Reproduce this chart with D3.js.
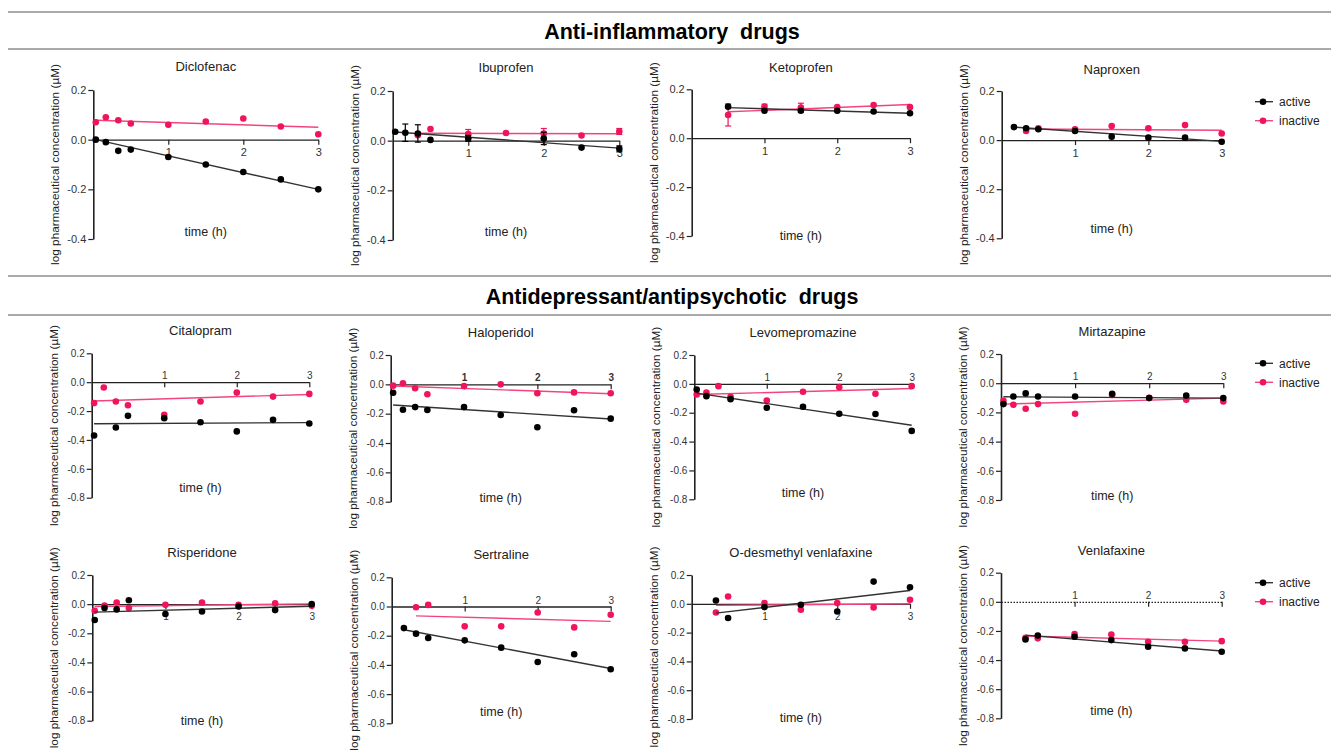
<!DOCTYPE html>
<html>
<head>
<meta charset="utf-8">
<script src="https://cdn.jsdelivr.net/npm/d3@7"></script>
<style>
  body { margin: 0; background: #fff; }
  svg { display: block; font-family: Arial, "Liberation Sans", sans-serif; }
</style>
</head>
<body>
<div id="chart"></div>
<script>
//Colores
const COLOR_ACTIVE = '#000000',
    COLOR_INACTIVE = '#f0145a',
    COLOR_FIT_ACTIVE = '#333333',
    COLOR_FIT_INACTIVE = '#f2457d',
    COLOR_AXIS = '#222222';

//Tiempos (h)
const tFull = [0.033, 0.167, 0.333, 0.5, 1, 1.5, 2, 2.5, 3];
const tFrom10 = [0.167, 0.333, 0.5, 1, 1.5, 2, 2.5, 3];
const tFrom20 = [0.333, 0.5, 1, 1.5, 2, 2.5, 3];
const tFrom30 = [0.5, 1, 1.5, 2, 2.5, 3];

const xTicks = [1, 2, 3];
const yTicksTop = [0.2, 0.0, -0.2, -0.4];
const yTicksBottom = [0.2, 0.0, -0.2, -0.4, -0.6, -0.8];

const seriesNames = ['active', 'inactive'];

//Datos (log concentración) + recta ajustada [inicio, fin]
const diclofenacActive = [0.0, -0.01, -0.045, -0.04, -0.07, -0.1, -0.13, -0.16, -0.2];
const diclofenacInactive = [0.07, 0.09, 0.078, 0.065, 0.06, 0.073, 0.085, 0.053, 0.022];
const diclofenacFit = [[0.0, -0.2], [0.078, 0.05]];

const ibuprofenActiveT = [0.033, 0.167, 0.333, 0.5, 1, 2, 2.5, 3];
const ibuprofenActive = [0.036, 0.032, 0.029, 0.003, 0.009, 0.009, -0.028, -0.033];
const ibuprofenActiveErr = [0, 0.035, 0.035, 0, 0.012, 0.025, 0, 0.012];
const ibuprofenInactive = [0.022, 0.047, 0.027, 0.031, 0.029, 0.021, 0.037];
const ibuprofenInactiveErr = [0, 0, 0.018, 0, 0.02, 0, 0.012];
const ibuprofenFit = [[0.035, -0.03], [0.03, 0.028]];

const ketoprofenActive = [0.129, 0.112, 0.112, 0.112, 0.109, 0.102];
const ketoprofenInactive = [0.095, 0.129, 0.125, 0.127, 0.136, 0.127];
const ketoprofenInactiveErr = [0.045, 0.01, 0.018, 0, 0, 0];
const ketoprofenFit = [[0.125, 0.102], [0.108, 0.138]];

const naproxenActive = [0.053, 0.048, 0.044, 0.037, 0.014, 0.01, 0.01, -0.007];
const naproxenInactive = [0.037, 0.048, 0.044, 0.057, 0.048, 0.061, 0.027];
const naproxenFit = [[0.053, -0.005], [0.045, 0.04]];

const citalopramActiveT = [0.033, 0.333, 0.5, 1, 1.5, 2, 2.5, 3];
const citalopramActive = [-0.369, -0.314, -0.233, -0.249, -0.277, -0.341, -0.261, -0.286];
const citalopramInactive = [-0.145, -0.037, -0.134, -0.16, -0.226, -0.134, -0.072, -0.1, -0.081];
const citalopramFit = [[-0.288, -0.28], [-0.13, -0.085]];

const haloperidolActive = [-0.057, -0.173, -0.155, -0.175, -0.155, -0.209, -0.293, -0.177, -0.234];
const haloperidolInactive = [-0.009, 0.007, -0.027, -0.068, -0.011, 0.0, -0.061, -0.055, -0.061];
const haloperidolFit = [[-0.141, -0.236], [-0.011, -0.064]];

const levomepromazineActiveT = [0.033, 0.167, 0.5, 1, 1.5, 2, 2.5, 3];
const levomepromazineActive = [-0.039, -0.085, -0.106, -0.166, -0.159, -0.207, -0.209, -0.326];
const levomepromazineInactive = [-0.074, -0.06, -0.016, -0.09, -0.115, -0.055, -0.023, -0.069, -0.016];
const levomepromazineFit = [[-0.064, -0.287], [-0.074, -0.032]];

const mirtazapineActive = [-0.143, -0.091, -0.07, -0.091, -0.091, -0.073, -0.102, -0.084, -0.102];
const mirtazapineInactive = [-0.12, -0.148, -0.175, -0.143, -0.209, -0.08, -0.1, -0.114, -0.125];
const mirtazapineFit = [[-0.093, -0.102], [-0.143, -0.102]];

const risperidoneActive = [-0.109, -0.027, -0.036, 0.027, -0.068, -0.05, -0.016, -0.041, 0.0];
const risperidoneInactive = [-0.045, -0.009, 0.011, -0.027, -0.005, 0.011, -0.005, 0.005, -0.011];
const risperidoneFit = [[-0.055, -0.014], [-0.016, 0.002]];

const sertralineActive = [-0.148, -0.186, -0.216, -0.232, -0.282, -0.38, -0.327, -0.43];
const sertralineInactive = [-0.005, 0.011, -0.136, -0.136, -0.041, -0.143, -0.057];
const sertralineFit = [[-0.159, -0.425], [-0.064, -0.102]];

const odvActive = [0.023, -0.099, -0.023, -0.007, -0.053, 0.154, 0.115];
const odvInactive = [-0.06, 0.051, 0.005, -0.041, 0.005, -0.025, 0.028];
const odvFit = [[-0.065, 0.092], [-0.011, 0.0]];

const venlafaxineActive = [-0.258, -0.231, -0.24, -0.263, -0.309, -0.32, -0.343];
const venlafaxineInactive = [-0.247, -0.251, -0.222, -0.224, -0.274, -0.274, -0.27];
const venlafaxineFit = [[-0.229, -0.338], [-0.235, -0.27]];

const drugs = [
    { name: 'Diclofenac', a: [tFull, diclofenacActive], i: [tFull, diclofenacInactive], fit: diclofenacFit },
    { name: 'Ibuprofen', a: [ibuprofenActiveT, ibuprofenActive, ibuprofenActiveErr], i: [tFrom20, ibuprofenInactive, ibuprofenInactiveErr], fit: ibuprofenFit },
    { name: 'Ketoprofen', a: [tFrom30, ketoprofenActive], i: [tFrom30, ketoprofenInactive, ketoprofenInactiveErr], fit: ketoprofenFit },
    { name: 'Naproxen', a: [tFrom10, naproxenActive], i: [tFrom20, naproxenInactive], fit: naproxenFit },
    { name: 'Citalopram', a: [citalopramActiveT, citalopramActive], i: [tFull, citalopramInactive], fit: citalopramFit },
    { name: 'Haloperidol', a: [tFull, haloperidolActive], i: [tFull, haloperidolInactive], fit: haloperidolFit },
    { name: 'Levomepromazine', a: [levomepromazineActiveT, levomepromazineActive], i: [tFull, levomepromazineInactive], fit: levomepromazineFit },
    { name: 'Mirtazapine', a: [tFull, mirtazapineActive], i: [tFull, mirtazapineInactive], fit: mirtazapineFit },
    { name: 'Risperidone', a: [tFull, risperidoneActive], i: [tFull, risperidoneInactive], fit: risperidoneFit },
    { name: 'Sertraline', a: [tFrom10, sertralineActive], i: [tFrom20, sertralineInactive], fit: sertralineFit },
    { name: 'O-desmethyl venlafaxine', a: [tFrom20, odvActive], i: [tFrom20, odvInactive], fit: odvFit },
    { name: 'Venlafaxine', a: [tFrom20, venlafaxineActive], i: [tFrom20, venlafaxineInactive], fit: venlafaxineFit }
];

//Posición de cada panel: eje y (t=0), t=3, y superior / inferior, etiquetas del eje x
const layout = [
    { ax: 93.3, x3: 318.3, yTop: 90, yBot: 239, lab: 'below', tY: 66, hY: 232 },
    { ax: 392.7, x3: 619.3, yTop: 91, yBot: 240, lab: 'below', tY: 67, hY: 232 },
    { ax: 691.7, x3: 910, yTop: 89.3, yBot: 236, lab: 'below', tY: 67, hY: 236 },
    { ax: 1001.7, x3: 1221.7, yTop: 91, yBot: 238.3, lab: 'below', tY: 69, hY: 229, legend: 101.7 },
    { ax: 91.7, x3: 309.3, yTop: 353.3, yBot: 497.7, lab: 'above', tY: 330, hY: 488 },
    { ax: 390.7, x3: 610.7, yTop: 355, yBot: 501.7, lab: 'above', tY: 332, hY: 498, bold: true },
    { ax: 694.3, x3: 911.7, yTop: 355, yBot: 499.3, lab: 'above', tY: 332, hY: 493 },
    { ax: 1001, x3: 1223.3, yTop: 354, yBot: 500, lab: 'above', tY: 331, hY: 496, legend: 363.3 },
    { ax: 92.3, x3: 311.7, yTop: 575, yBot: 720.7, lab: 'below', tY: 552, hY: 721 },
    { ax: 391.7, x3: 610.7, yTop: 577.3, yBot: 723.3, lab: 'above', tY: 554, hY: 712 },
    { ax: 691.7, x3: 910, yTop: 575, yBot: 719, lab: 'below', tY: 552, hY: 718 },
    { ax: 1001, x3: 1221.7, yTop: 572.7, yBot: 718.3, lab: 'above', tY: 550, hY: 711, legend: 582.7, dotted: true }
];

const W = 1331, H = 752;
const svg = d3.select('#chart').append('svg').attr('width', W).attr('height', H);

//Cabeceras de sección
[12, 49, 276, 315].forEach(function(yy) {
    svg.append('line').attr('x1', 8).attr('x2', W).attr('y1', yy).attr('y2', yy)
        .attr('stroke', '#555').attr('stroke-width', 1);
});
svg.append('text').attr('x', 672).attr('y', 38.5).attr('text-anchor', 'middle')
    .style('font-size', '21.5px').style('font-weight', 'bold').style('white-space', 'pre')
    .text('Anti-inflammatory  drugs');
svg.append('text').attr('x', 672).attr('y', 303.5).attr('text-anchor', 'middle')
    .style('font-size', '21.5px').style('font-weight', 'bold').style('white-space', 'pre')
    .text('Antidepressant/antipsychotic  drugs');

drugs.forEach(function(d, k) {
    const L = layout[k];
    const top = k < 4;
    const yTicks = top ? yTicksTop : yTicksBottom;
    const g = svg.append('g');

    let x = d3.scaleLinear().domain([0, 3]).range([L.ax, L.x3]);
    let y = d3.scaleLinear().domain([0.2, yTicks[yTicks.length - 1]]).range([L.yTop, L.yBot]);

    //Eje Y
    const gy = g.append('g').attr('transform', 'translate(' + L.ax + ',0)')
        .call(d3.axisLeft(y).tickValues(yTicks).tickSize(5).tickSizeOuter(0)
            .tickFormat(function(v) { return v.toFixed(1); }));
    gy.select('.domain').attr('stroke', COLOR_AXIS).attr('stroke-width', 1.6);
    gy.selectAll('.tick line').attr('stroke', COLOR_AXIS).attr('stroke-width', 1.2);
    gy.selectAll('.tick text').attr('fill', '#333').attr('x', -7)
        .style('font-size', top ? '11px' : '10px').style('font-family', 'Arial, "Liberation Sans", sans-serif');

    //Eje X en y = 0
    const gx = g.append('g').attr('transform', 'translate(0,' + y(0) + ')')
        .call(d3.axisBottom(x).tickValues(xTicks).tickSize(5).tickSizeOuter(0).tickFormat(d3.format('d')));
    gx.select('.domain').attr('stroke', COLOR_AXIS).attr('stroke-width', 1.3)
        .attr('stroke-dasharray', L.dotted ? '1.5,1.5' : null);
    gx.selectAll('.tick line').attr('stroke', COLOR_AXIS).attr('stroke-width', 1.2);
    const tx = gx.selectAll('.tick text').attr('fill', '#333')
        .style('font-size', top ? '11px' : '10px').style('font-family', 'Arial, "Liberation Sans", sans-serif')
        .style('font-weight', L.bold ? 'bold' : null);
    if (L.lab === 'above') {
        tx.attr('y', -3).attr('dy', '0');
    } else {
        tx.attr('y', 9).attr('dy', '0.71em');
    }

    //Títulos
    const cx = (L.ax + L.x3) / 2;
    g.append('text').attr('x', cx).attr('y', L.tY).attr('dy', '0.35em').attr('text-anchor', 'middle')
        .style('font-size', '13px').attr('fill', '#222').text(d.name);
    g.append('text').attr('x', cx).attr('y', L.hY).attr('dy', '0.35em').attr('text-anchor', 'middle')
        .style('font-size', '12.5px').attr('fill', '#222').text('time (h)');
    g.append('text')
        .attr('transform', 'translate(' + (L.ax - 38) + ',' + ((L.yTop + L.yBot) / 2) + ') rotate(-90)')
        .attr('text-anchor', 'middle').attr('dy', '0.35em')
        .style('font-size', '11.8px').attr('fill', '#222')
        .text('log pharmaceutical concentration (µM)');

    //Series: inactiva primero, activa encima
    [['i', 1, COLOR_INACTIVE, COLOR_FIT_INACTIVE], ['a', 0, COLOR_ACTIVE, COLOR_FIT_ACTIVE]].forEach(function(s) {
        const ser = d[s[0]];
        const ts = ser[0], vs = ser[1], es = ser[2];
        const fit = d.fit[s[1]];
        const pts = ts.map(function(t, j) { return { t: t, v: vs[j], e: es ? es[j] : 0 }; });

        g.append('line')
            .attr('x1', x(ts[0])).attr('x2', x(ts[ts.length - 1]))
            .attr('y1', y(fit[0])).attr('y2', y(fit[1]))
            .attr('stroke', s[3]).attr('stroke-width', 1.4);

        const eb = g.selectAll(null).data(pts.filter(function(p) { return p.e > 0; })).enter().append('g')
            .attr('stroke', s[2]).attr('stroke-width', 1.2);
        eb.append('line').attr('x1', function(p) { return x(p.t); }).attr('x2', function(p) { return x(p.t); })
            .attr('y1', function(p) { return y(p.v - p.e); }).attr('y2', function(p) { return y(p.v + p.e); });
        eb.append('line').attr('x1', function(p) { return x(p.t) - 3; }).attr('x2', function(p) { return x(p.t) + 3; })
            .attr('y1', function(p) { return y(p.v + p.e); }).attr('y2', function(p) { return y(p.v + p.e); });
        eb.append('line').attr('x1', function(p) { return x(p.t) - 3; }).attr('x2', function(p) { return x(p.t) + 3; })
            .attr('y1', function(p) { return y(p.v - p.e); }).attr('y2', function(p) { return y(p.v - p.e); });

        g.selectAll(null).data(pts).enter().append('circle')
            .attr('cx', function(p) { return x(p.t); })
            .attr('cy', function(p) { return y(p.v); })
            .attr('r', 3.3)
            .attr('fill', s[2]);
    });

    //Leyenda
    if (L.legend) {
        const lg = svg.append('g');
        seriesNames.forEach(function(nm, j) {
            const yy = L.legend + j * 19;
            const col = j === 0 ? COLOR_ACTIVE : COLOR_INACTIVE;
            lg.append('line').attr('x1', 1255).attr('x2', 1273).attr('y1', yy).attr('y2', yy)
                .attr('stroke', j === 0 ? COLOR_FIT_ACTIVE : COLOR_FIT_INACTIVE).attr('stroke-width', 1.4);
            lg.append('circle').attr('cx', 1263).attr('cy', yy).attr('r', 3.3).attr('fill', col);
            lg.append('text').attr('x', 1279).attr('y', yy).attr('dy', '0.35em')
                .style('font-size', '12px').attr('fill', '#222').text(nm);
        });
    }
});
</script>
</body>
</html>
